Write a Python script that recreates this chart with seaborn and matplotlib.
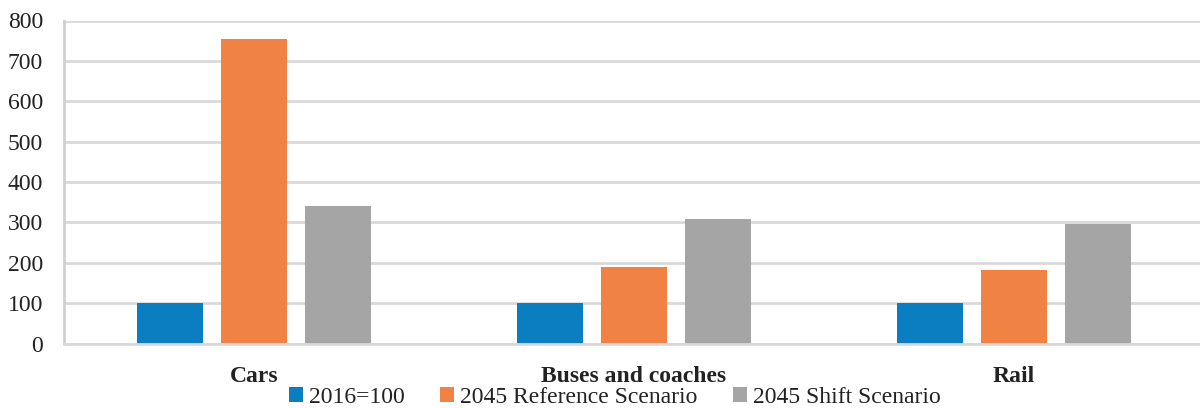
import matplotlib
matplotlib.use("Agg")
import matplotlib.pyplot as plt
import seaborn as sns
import pandas as pd
from matplotlib.patches import Patch

categories = ["Cars", "Buses and coaches", "Rail"]
series_names = ["2016=100", "2045 Reference Scenario", "2045 Shift Scenario"]
base_2016 = [100, 100, 100]
ref_2045 = [754, 190, 183]
shift_2045 = [341, 309, 295]
yticks = [0, 100, 200, 300, 400, 500, 600, 700, 800]
colors = ["#0B7EC1", "#F08243", "#A5A5A5"]

rows = []
for name, vals in zip(series_names, [base_2016, ref_2045, shift_2045]):
    for c, v in zip(categories, vals):
        rows.append({"category": c, "series": name, "value": v})
df = pd.DataFrame(rows)

sns.set_theme(style="white")
plt.rcParams["font.family"] = ["Liberation Serif", "DejaVu Serif"]

fig = plt.figure(figsize=(12, 4.08), dpi=100)
ax = fig.add_axes([64 / 1200, 1 - 343.5 / 408, 1140 / 1200, (343.5 - 20.5) / 408])

sns.barplot(data=df, x="category", y="value", hue="series", order=categories,
            hue_order=series_names, palette=colors, width=0.663, gap=0.21,
            saturation=1, edgecolor="none", linewidth=0, ax=ax, legend=False, errorbar=None)

ax.set_xlim(-0.5, 2.5)
ax.set_ylim(0, 800)
ax.set_yticks(yticks)
ax.set_yticklabels([str(t) for t in yticks], fontsize=17, color="#222222")
ax.yaxis.grid(True, color="#D9D9D9", linewidth=2)
ax.set_axisbelow(True)
ax.tick_params(axis="y", length=0, pad=15)
ax.tick_params(axis="x", length=0, pad=16)
for lbl in ax.get_xticklabels():
    lbl.set_fontweight("bold")
    lbl.set_fontsize(17)
    lbl.set_color("#222222")
ax.set_xlabel("")
ax.set_ylabel("")
for s in ["top", "right"]:
    ax.spines[s].set_visible(False)
ax.spines["left"].set_color("#D0D0D0")
ax.spines["left"].set_linewidth(2)
ax.spines["bottom"].set_color("#D9D9D9")
ax.spines["bottom"].set_linewidth(2)

handles = [Patch(facecolor=c, edgecolor="none") for c in colors]
leg = fig.legend(handles, series_names, loc="center", bbox_to_anchor=(615 / 1200, 1 - 397.5 / 408),
                 ncol=3, frameon=False, fontsize=17, handlelength=0.6, handleheight=0.6,
                 handletextpad=0.25, columnspacing=1.5, borderaxespad=0, borderpad=0)
for t in leg.get_texts():
    t.set_color("#222222")

fig.savefig("out.png", dpi=100)
